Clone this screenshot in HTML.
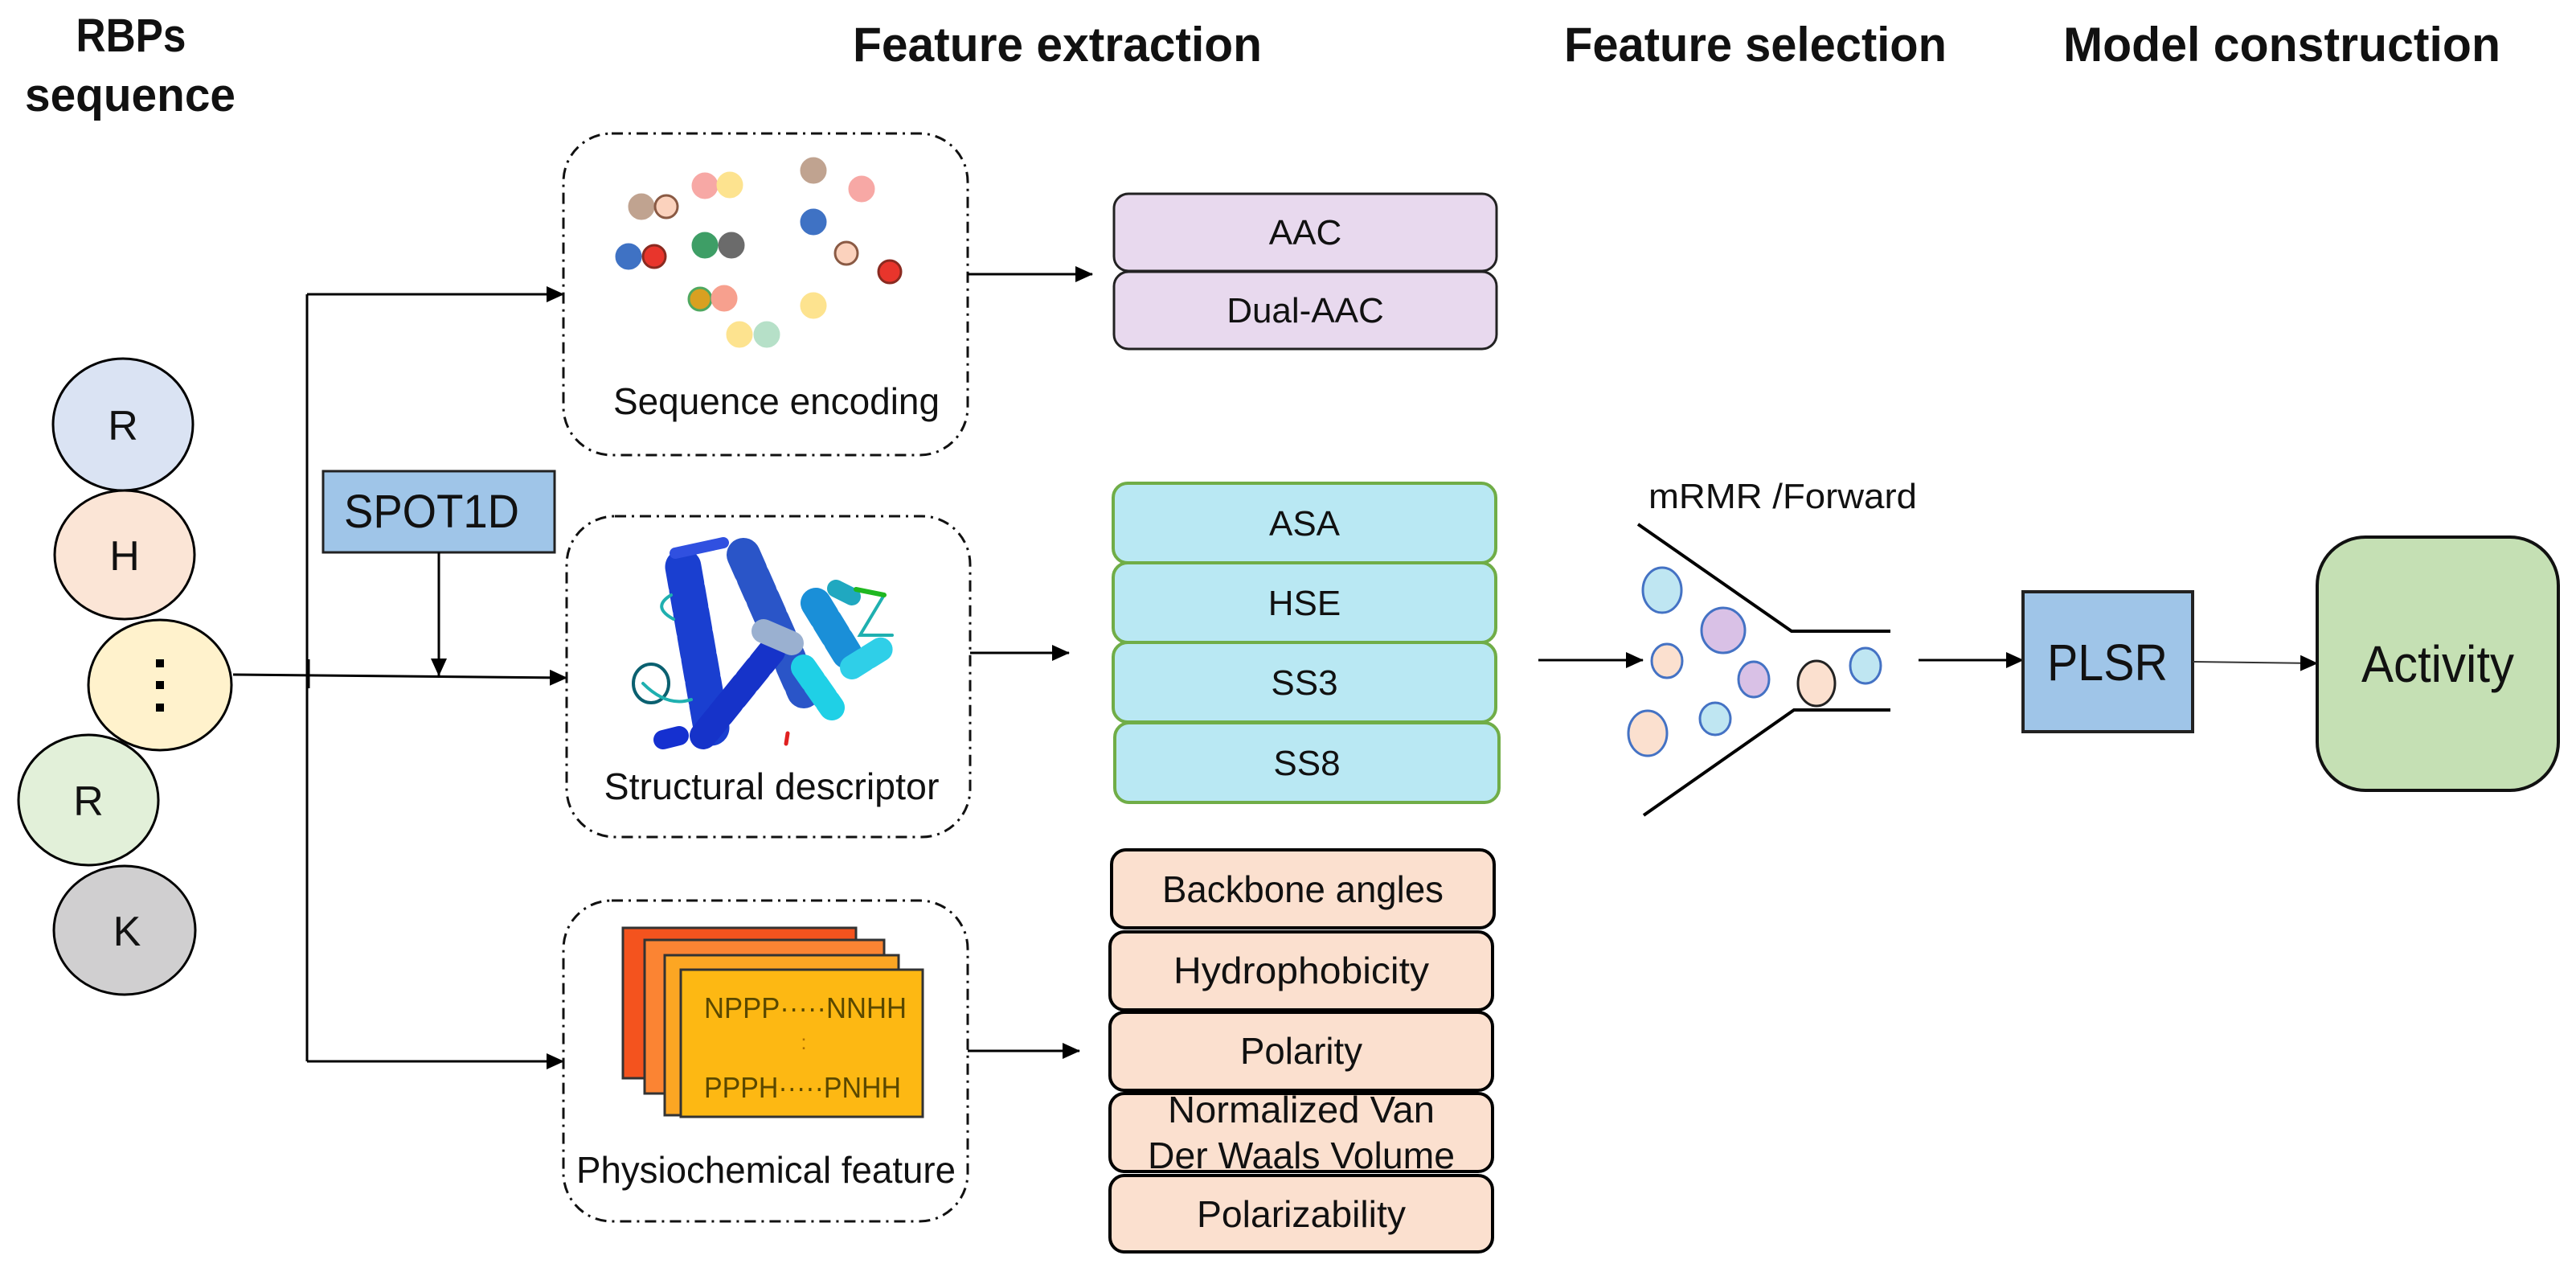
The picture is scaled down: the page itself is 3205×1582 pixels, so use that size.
<!DOCTYPE html>
<html><head><meta charset="utf-8"><style>
html,body{margin:0;padding:0;background:#fff}
svg{display:block}
text{font-family:"Liberation Sans",sans-serif;fill:#111}
</style></head><body>
<svg width="3205" height="1582" viewBox="0 0 3205 1582" xmlns="http://www.w3.org/2000/svg">
<defs>
<marker id="ah" markerWidth="22" markerHeight="20" refX="21" refY="10" orient="auto" markerUnits="userSpaceOnUse" viewBox="0 0 22 20">
<path d="M0,0 L22,10 L0,20 z" fill="#000"/></marker>
</defs>
<rect width="3205" height="1582" fill="#fff"/>

<!-- Headers -->
<text x="163" y="64" font-size="58" font-weight="bold" text-anchor="middle" textLength="137" lengthAdjust="spacingAndGlyphs">RBPs</text>
<text x="162" y="138" font-size="58" font-weight="bold" text-anchor="middle" textLength="262" lengthAdjust="spacingAndGlyphs">sequence</text>
<text x="1061" y="76" font-size="60" font-weight="bold" textLength="509" lengthAdjust="spacingAndGlyphs">Feature extraction</text>
<text x="1946" y="76" font-size="60" font-weight="bold" textLength="476" lengthAdjust="spacingAndGlyphs">Feature selection</text>
<text x="2567" y="76" font-size="60" font-weight="bold" textLength="544" lengthAdjust="spacingAndGlyphs">Model construction</text>

<!-- Circles -->
<ellipse cx="153" cy="528" rx="87" ry="82" fill="#dae3f3" stroke="#000" stroke-width="3"/>
<text x="153" y="547" font-size="52" text-anchor="middle">R</text>
<ellipse cx="155" cy="690" rx="87" ry="80" fill="#fbe5d6" stroke="#000" stroke-width="3"/>
<text x="155" y="709" font-size="52" text-anchor="middle">H</text>
<ellipse cx="199" cy="852" rx="89" ry="81" fill="#fff2cc" stroke="#000" stroke-width="3"/>
<rect x="194" y="820" width="10" height="10" fill="#000"/>
<rect x="194" y="847" width="10" height="10" fill="#000"/>
<rect x="194" y="875" width="10" height="10" fill="#000"/>
<ellipse cx="110" cy="995" rx="87" ry="81" fill="#e2f0d9" stroke="#000" stroke-width="3"/>
<text x="110" y="1014" font-size="52" text-anchor="middle">R</text>
<ellipse cx="155" cy="1157" rx="88" ry="80" fill="#d0cfd0" stroke="#000" stroke-width="3"/>
<text x="158" y="1176" font-size="52" text-anchor="middle">K</text>

<!-- Connectors left -->
<line x1="382" y1="366" x2="382" y2="1320" stroke="#000" stroke-width="3"/>
<line x1="382" y1="366" x2="701" y2="366" stroke="#000" stroke-width="3" marker-end="url(#ah)"/>
<line x1="382" y1="1320" x2="701" y2="1320" stroke="#000" stroke-width="3" marker-end="url(#ah)"/>
<line x1="290" y1="839" x2="705" y2="843" stroke="#000" stroke-width="3" marker-end="url(#ah)"/>
<line x1="383" y1="820" x2="383" y2="856" stroke="#000" stroke-width="5"/>
<rect x="402" y="586" width="288" height="101" fill="#9fc5e8" stroke="#222" stroke-width="3"/>
<text x="537" y="656" font-size="58" text-anchor="middle" textLength="218" lengthAdjust="spacingAndGlyphs">SPOT1D</text>
<line x1="546" y1="687" x2="546" y2="840" stroke="#000" stroke-width="3" marker-end="url(#ah)"/>

<!-- Dashed boxes -->
<g fill="none" stroke="#111" stroke-width="3" stroke-dasharray="14 7 3 7">
<rect x="701" y="166" width="503" height="400" rx="60"/>
<rect x="705" y="642" width="502" height="399" rx="60"/>
<rect x="701" y="1120" width="503" height="399" rx="60"/>
</g>

<!-- Sequence dots -->
<g stroke-width="3">
<circle cx="798" cy="257" r="15" fill="#c0a390" stroke="#c0a390"/>
<circle cx="829" cy="257" r="14" fill="#fbd2bd" stroke="#8a5a44"/>
<circle cx="877" cy="231" r="15" fill="#f7a8a5" stroke="#f7a8a5"/>
<circle cx="908" cy="230" r="15" fill="#fde38f" stroke="#fde38f"/>
<circle cx="1012" cy="212" r="15" fill="#c0a390" stroke="#c0a390"/>
<circle cx="1072" cy="235" r="15" fill="#f7a8a5" stroke="#f7a8a5"/>
<circle cx="1012" cy="276" r="15" fill="#3f72c4" stroke="#3f72c4"/>
<circle cx="782" cy="319" r="15" fill="#3f72c4" stroke="#3f72c4"/>
<circle cx="814" cy="319" r="14" fill="#e8352c" stroke="#8a2a20"/>
<circle cx="877" cy="305" r="15" fill="#3e9e66" stroke="#3e9e66"/>
<circle cx="910" cy="305" r="15" fill="#6b6b6b" stroke="#6b6b6b"/>
<circle cx="1053" cy="315" r="14" fill="#fbd2bd" stroke="#8a5a44"/>
<circle cx="1107" cy="338" r="14" fill="#e8352c" stroke="#8a2a20"/>
<circle cx="871" cy="372" r="14" fill="#d9a021" stroke="#4fa860"/>
<circle cx="901" cy="371" r="15" fill="#f7a08e" stroke="#f7a08e"/>
<circle cx="1012" cy="380" r="15" fill="#fde38f" stroke="#fde38f"/>
<circle cx="920" cy="416" r="15" fill="#fde38f" stroke="#fde38f"/>
<circle cx="954" cy="416" r="15" fill="#b6e0c8" stroke="#b6e0c8"/>
</g>
<text x="966" y="515" font-size="46" text-anchor="middle" textLength="406" lengthAdjust="spacingAndGlyphs">Sequence encoding</text>

<!-- Protein -->
<g stroke-linecap="round" fill="none">
<path d="M850,705 L885,905" stroke="#1a3fd0" stroke-width="45" stroke-dasharray="22 7"/>
<path d="M925,690 L1000,860" stroke="#2a55c8" stroke-width="42" stroke-dasharray="22 8"/>
<path d="M960,810 L875,915" stroke="#1633c9" stroke-width="34" stroke-dasharray="20 7"/>
<path d="M1015,750 L1055,815" stroke="#1a8fd8" stroke-width="38" stroke-dasharray="20 7"/>
<path d="M1000,830 L1035,880" stroke="#1fd0e6" stroke-width="32" stroke-dasharray="20 6"/>
<path d="M1060,830 L1100,805" stroke="#2fcfe8" stroke-width="30" stroke-dasharray="18 6"/>
<path d="M950,785 L985,800" stroke="#9ab0d0" stroke-width="30"/>
<path d="M1040,732 L1060,742" stroke="#20a8c0" stroke-width="22"/>
<path d="M845,915 L825,920" stroke="#1530d0" stroke-width="24"/>
<path d="M900,675 L840,688" stroke="#3050e0" stroke-width="14"/>
<ellipse cx="810" cy="850" rx="22" ry="24" stroke="#0a6070" stroke-width="4"/>
<path d="M835,740 Q810,755 838,770 M800,850 Q830,880 860,870 M1100,740 L1070,790 L1110,790" stroke="#1fb0b0" stroke-width="4"/>
<path d="M1065,733 L1100,740" stroke="#1fb820" stroke-width="6"/>
<path d="M980,912 L978,925" stroke="#e02020" stroke-width="5"/>
</g>
<text x="960" y="994" font-size="46" text-anchor="middle" textLength="417" lengthAdjust="spacingAndGlyphs">Structural descriptor</text>

<!-- Physio stack -->
<rect x="775" y="1154" width="290" height="187" fill="#f4531e" stroke="#333" stroke-width="3"/>
<rect x="802" y="1169" width="298" height="191" fill="#fb8433" stroke="#333" stroke-width="3"/>
<rect x="827" y="1188" width="291" height="199" fill="#fca623" stroke="#333" stroke-width="3"/>
<rect x="847" y="1206" width="301" height="183" fill="#fdb813" stroke="#333" stroke-width="3"/>
<text x="876" y="1266" font-size="36" style="fill:#5a4800" textLength="252" lengthAdjust="spacingAndGlyphs">NPPP·····NNHH</text>
<text x="1000" y="1305" font-size="26" style="fill:#b07000" text-anchor="middle">:</text>
<text x="876" y="1365" font-size="36" style="fill:#5a4800" textLength="245" lengthAdjust="spacingAndGlyphs">PPPH·····PNHH</text>
<text x="953" y="1471" font-size="46" text-anchor="middle" textLength="472" lengthAdjust="spacingAndGlyphs">Physiochemical feature</text>

<!-- Box arrows -->
<line x1="1204" y1="341" x2="1359" y2="341" stroke="#000" stroke-width="3" marker-end="url(#ah)"/>
<line x1="1207" y1="812" x2="1330" y2="812" stroke="#000" stroke-width="3" marker-end="url(#ah)"/>
<line x1="1204" y1="1307" x2="1343" y2="1307" stroke="#000" stroke-width="3" marker-end="url(#ah)"/>

<!-- AAC -->
<g stroke="#222" stroke-width="3">
<rect x="1386" y="241" width="476" height="96" rx="18" fill="#e8d9ee"/>
<rect x="1386" y="338" width="476" height="96" rx="18" fill="#e8d9ee"/>
</g>
<text x="1624" y="304" font-size="44" text-anchor="middle">AAC</text>
<text x="1624" y="401" font-size="44" text-anchor="middle">Dual-AAC</text>

<!-- Structural feature list -->
<g stroke="#70ad47" stroke-width="4" fill="#b9e8f3">
<rect x="1385" y="601" width="476" height="99" rx="18"/>
<rect x="1385" y="700" width="476" height="99" rx="18"/>
<rect x="1385" y="799" width="476" height="99" rx="18"/>
<rect x="1387" y="899" width="478" height="99" rx="18"/>
</g>
<text x="1623" y="666" font-size="44" text-anchor="middle">ASA</text>
<text x="1623" y="765" font-size="44" text-anchor="middle">HSE</text>
<text x="1623" y="864" font-size="44" text-anchor="middle">SS3</text>
<text x="1626" y="964" font-size="44" text-anchor="middle">SS8</text>

<!-- Physio list -->
<g stroke="#000" stroke-width="4" fill="#fbe0cf">
<rect x="1383" y="1057" width="476" height="97" rx="18"/>
<rect x="1381" y="1159" width="476" height="97" rx="18"/>
<rect x="1381" y="1259" width="476" height="97" rx="18"/>
<rect x="1381" y="1360" width="476" height="97" rx="18"/>
<rect x="1381" y="1462" width="476" height="95" rx="18"/>
</g>
<text x="1621" y="1122" font-size="46" text-anchor="middle" textLength="350" lengthAdjust="spacingAndGlyphs">Backbone angles</text>
<text x="1619" y="1223" font-size="46" text-anchor="middle" textLength="318" lengthAdjust="spacingAndGlyphs">Hydrophobicity</text>
<text x="1619" y="1323" font-size="46" text-anchor="middle" textLength="152" lengthAdjust="spacingAndGlyphs">Polarity</text>
<text x="1619" y="1396" font-size="46" text-anchor="middle" textLength="332" lengthAdjust="spacingAndGlyphs">Normalized Van</text>
<text x="1619" y="1453" font-size="46" text-anchor="middle" textLength="382" lengthAdjust="spacingAndGlyphs">Der Waals Volume</text>
<text x="1619" y="1526" font-size="46" text-anchor="middle" textLength="260" lengthAdjust="spacingAndGlyphs">Polarizability</text>

<!-- Selection funnel -->
<text x="2051" y="632" font-size="44" textLength="334" lengthAdjust="spacingAndGlyphs">mRMR /Forward</text>
<g stroke="#000" stroke-width="4" fill="none">
<polyline points="2038,652 2229,785 2352,785"/>
<polyline points="2045,1014 2232,883 2352,883"/>
</g>
<line x1="1914" y1="821" x2="2044" y2="821" stroke="#000" stroke-width="3" marker-end="url(#ah)"/>
<g stroke="#4472c4" stroke-width="3">
<ellipse cx="2068" cy="734" rx="24" ry="28" fill="#bfe6f2"/>
<ellipse cx="2144" cy="784" rx="27" ry="28" fill="#d9c1e6"/>
<ellipse cx="2074" cy="822" rx="19" ry="21" fill="#fbe0cf"/>
<ellipse cx="2182" cy="845" rx="19" ry="22" fill="#d9c1e6"/>
<ellipse cx="2260" cy="850" rx="23" ry="28" fill="#fbe0cf" stroke="#222"/>
<ellipse cx="2321" cy="828" rx="19" ry="22" fill="#bfe6f2"/>
<ellipse cx="2050" cy="912" rx="24" ry="28" fill="#fbe0cf"/>
<ellipse cx="2134" cy="894" rx="19" ry="20" fill="#bfe6f2"/>
</g>
<line x1="2387" y1="821" x2="2517" y2="821" stroke="#000" stroke-width="3" marker-end="url(#ah)"/>

<!-- PLSR / Activity -->
<rect x="2517" y="736" width="211" height="174" fill="#9fc5e8" stroke="#222" stroke-width="4"/>
<text x="2622" y="846" font-size="64" text-anchor="middle" textLength="150" lengthAdjust="spacingAndGlyphs">PLSR</text>
<line x1="2728" y1="823" x2="2883" y2="825" stroke="#333" stroke-width="2" marker-end="url(#ah)"/>
<rect x="2883" y="668" width="300" height="315" rx="60" fill="#c5e0b4" stroke="#111" stroke-width="4"/>
<text x="3033" y="848" font-size="64" text-anchor="middle" textLength="190" lengthAdjust="spacingAndGlyphs">Activity</text>
</svg>
</body></html>
